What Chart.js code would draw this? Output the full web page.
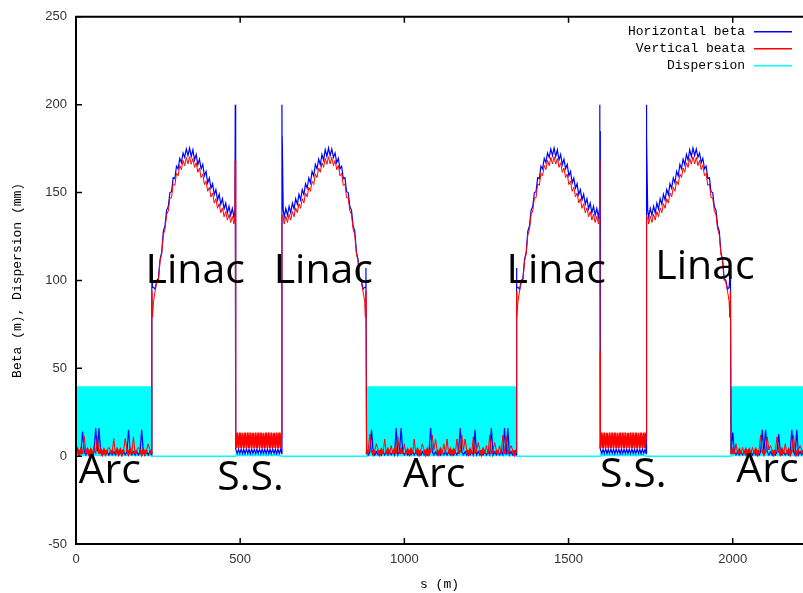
<!DOCTYPE html>
<html><head><meta charset="utf-8">
<script src="https://cdn.jsdelivr.net/npm/chart.js@4"></script>
<style>html,body{margin:0;padding:0;background:#fff}canvas{display:block}</style>
</head><body>
<canvas id="c" width="803" height="593" style="width:803px;height:593px"></canvas>
<script>
// ---------- DATA (s in m, beta in m, dispersion in mm) ----------
const seriesNames = ['Horizontal beta', 'Vertical beata', 'Dispersion'];
const xTicks = [0, 500, 1000, 1500, 2000];
const yTicks = [-50, 0, 50, 100, 150, 200, 250];

// Arc 1
const sArc1 = [0,5,10,15,20,25,30,35,40,45,50,55,60,65,70,75,80,85,90,95,100,105,110,115,120,125,130,135,140,145,150,155,160,165,170,175,180,185,190,195,200,205,210,215,220,225,230];
const bxArc1 = [0.6,2.6,0.7,2.5,14,2.6,0.6,2.5,0.7,2.6,0.6,2.5,16,2.6,16,2.5,0.6,2.6,0.7,2.5,0.6,2.6,0.7,2.5,0.6,2.6,0.7,2.5,0.6,2.6,0.7,2.5,15,2.6,0.7,2.5,0.6,2.6,0.7,2.5,15,2.6,0.7,2.5,0.6,2.6,0.7];
const byArc1 = [1.2,3.5,1.3,3.4,1.2,11.5,1.3,3.5,1.2,3.4,1.3,5.8,1.2,11,1.3,3.5,1.2,3.4,1.3,3.5,5,3.4,1.3,10,1.2,3.5,1.3,3.4,1.2,3.5,10,3.4,1.3,3.5,1.2,11,1.3,3.4,5,3.5,1.2,3.4,1.3,3.5,7,3.4,1.3];

// Linac 1
const sLin1 = [231,233,236,241,246,251,256,261,266,271,276,281,286,291,296,301,306,311,316,321,326,331,336,341,346,351,356,361,366,371,376,381,386,391,396,401,406,411,416,421,426,431,436,441,446,451,456,461,466,471,476,481,484];
const bxLin1 = [107,96,96,95,100,101,112,116,128,131,140,142,150,150.5,158.5,158,165,163.5,169.5,167,172.5,170,174.8,171,175.3,170.5,174.3,168.5,171.7,165.8,169,163.5,166,159.5,162,155.5,158.3,152.5,155,148.8,151.7,145.8,149,143.3,146.5,140.7,144,138.5,142.2,137,141,136,140.3];
const byLin1 = [94,79,88,94,99,100,111,115,126,129,137.5,139.5,147,147,155,154,161,159.5,165.5,163,168.3,165.3,170,166.3,170.4,166.1,169.4,164.3,167,161.5,164,158.5,160.5,154.5,156.5,150.7,153,147.5,149.7,144,146.5,141,143.7,138.5,141.3,136.2,139.2,134.3,137.6,133,136.5,132.1,136];

// Straight section 1
const sSS1 = [485,485.5,486,486.5,487,491,495,499,503,507,511,515,519,523,527,531,535,539,543,547,551,555,559,563,567,571,575,579,583,587,591,595,599,603,607,611,615,619,623,626];
const bxSS1 = [200,170,185,40,4.0,1.5,3.9,1.4,4.0,1.5,3.9,1.4,4.0,1.5,3.9,1.4,4.0,1.5,3.9,1.4,4.0,1.5,3.9,1.4,4.0,1.5,3.9,1.4,4.0,1.5,3.9,1.4,4.0,1.5,3.9,1.4,4.0,1.5,3.9,1.4];
const bySS1 = [168,150,60,13.4,4.5,13.4,4.6,13.4,4.5,13.3,4.6,13.4,4.5,13.4,4.6,13.4,4.5,13.3,4.6,13.4,4.5,13.4,4.6,13.4,4.5,13.3,4.6,13.4,4.5,13.4,4.6,13.4,4.5,13.3,4.6,13.4,4.5,13.4,4.6,13.4];

// Linac 2
const sLin2 = [627.2,627.6,628,631,634,639,644,649,654,659,664,669,674,679,684,689,694,699,704,709,714,719,724,729,734,739,744,749,754,759,764,769,774,779,784,789,794,799,804,809,814,819,824,829,834,839,844,849,854,859,864,869,874,879,881,883];
const bxLin2 = [200,168,182,140.3,136,141,137,142.2,138.5,144,140.7,146.5,143.3,149,145.8,151.7,148.8,155,152.5,158.3,155.5,162,159.5,166,163.5,169,165.8,171.7,168.5,174.3,170.5,175.3,171,174.8,170,172.5,167,169.5,163.5,165,158,158.5,150.5,150,142,140,131,128,116,112,101,100,95,96,96,107];
const byLin2 = [137,137,136.5,136,132.1,136.5,133,137.6,134.3,139.2,136.2,141.3,138.5,143.7,141,146.5,144,149.7,147.5,153,150.7,156.5,154.5,160.5,158.5,164,161.5,167,164.3,169.4,166.1,170.4,166.3,170,165.3,168.3,163,165.5,159.5,161,154,155,147,147,139.5,137.5,129,126,115,111,100,99,94,88,79,94];

// Arc 2
const sArc2 = [885,890,895,900,905,910,915,920,925,930,935,940,945,950,955,960,965,970,975,980,985,990,995,1000,1005,1010,1015,1020,1025,1030,1035,1040,1045,1050,1055,1060,1065,1070,1075,1080,1085,1090,1095,1100,1105,1110,1115,1120,1125,1130,1135,1140,1145,1150,1155,1160,1165,1170,1175,1180,1185,1190,1195,1200,1205,1210,1215,1220,1225,1230,1235,1240,1245,1250,1255,1260,1265,1270,1275,1280,1285,1290,1295,1300,1305,1310,1315,1320,1325,1330,1335,1340];
const bxArc2 = [2.6,0.6,2.5,15,2.6,0.6,2.5,0.7,2.6,0.6,2.5,0.7,2.6,0.6,2.5,0.7,2.6,0.6,16,0.7,2.6,16,2.5,0.7,2.6,0.6,2.5,0.7,2.6,0.6,2.5,0.7,2.6,0.6,2.5,0.7,2.6,0.6,2.5,16,2.6,0.6,2.5,0.7,2.6,0.6,2.5,0.7,2.6,0.6,2.5,0.7,2.6,0.6,2.5,0.7,2.6,16,2.5,0.7,2.6,0.6,2.5,0.7,2.6,0.6,15,0.7,2.6,0.6,2.5,0.7,2.6,0.6,2.5,0.7,16,0.6,2.5,0.7,2.6,0.6,2.5,0.7,16,0.6,16,0.7,2.6,0.6,2.5,0.7];
const byArc2 = [1.2,3.5,12.5,3.4,1.3,3.5,7,3.5,1.2,3.4,1.3,9.7,1.2,3.5,1.3,6,1.2,3.5,1.3,11,1.2,3.5,1.3,7,1.2,3.4,1.3,3.5,1.2,9.7,1.3,3.5,1.2,3.4,7,3.5,1.2,3.5,1.3,3.4,12,3.5,9.7,3.4,1.3,3.5,1.2,7,1.3,9.7,1.2,3.5,1.3,3.4,1.2,9.7,1.3,3.5,12,3.4,9.7,3.5,1.3,3.4,1.2,11,1.3,3.5,7.7,3.4,1.2,3.5,1.3,6,1.2,12,1.3,3.5,7.7,3.4,1.2,6,1.3,12,1.2,11,1.3,3.5,6,3.4,1.2,3.5];

// Linac 3
const sLin3 = [1341,1343,1346,1351,1356,1361,1366,1371,1376,1381,1386,1391,1396,1401,1406,1411,1416,1421,1426,1431,1436,1441,1446,1451,1456,1461,1466,1471,1476,1481,1486,1491,1496,1501,1506,1511,1516,1521,1526,1531,1536,1541,1546,1551,1556,1561,1566,1571,1576,1581,1586,1591,1594];
const bxLin3 = [107,96,96,95,100,101,112,116,128,131,140,142,150,150.5,158.5,158,165,163.5,169.5,167,172.5,170,174.8,171,175.3,170.5,174.3,168.5,171.7,165.8,169,163.5,166,159.5,162,155.5,158.3,152.5,155,148.8,151.7,145.8,149,143.3,146.5,140.7,144,138.5,142.2,137,141,136,140.3];
const byLin3 = [94,79,88,94,99,100,111,115,126,129,137.5,139.5,147,147,155,154,161,159.5,165.5,163,168.3,165.3,170,166.3,170.4,166.1,169.4,164.3,167,161.5,164,158.5,160.5,154.5,156.5,150.7,153,147.5,149.7,144,146.5,141,143.7,138.5,141.3,136.2,139.2,134.3,137.6,133,136.5,132.1,136];

// Straight section 2
const sSS2 = [1595,1595.5,1596,1596.5,1597,1601,1605,1609,1613,1617,1621,1625,1629,1633,1637,1641,1645,1649,1653,1657,1661,1665,1669,1673,1677,1681,1685,1689,1693,1697,1701,1705,1709,1713,1717,1721,1725,1729,1733,1736];
const bxSS2 = [200,170,185,40,4.0,1.5,3.9,1.4,4.0,1.5,3.9,1.4,4.0,1.5,3.9,1.4,4.0,1.5,3.9,1.4,4.0,1.5,3.9,1.4,4.0,1.5,3.9,1.4,4.0,1.5,3.9,1.4,4.0,1.5,3.9,1.4,4.0,1.5,3.9,1.4];
const bySS2 = [168,150,60,13.4,4.5,13.4,4.6,13.4,4.5,13.3,4.6,13.4,4.5,13.4,4.6,13.4,4.5,13.3,4.6,13.4,4.5,13.4,4.6,13.4,4.5,13.3,4.6,13.4,4.5,13.4,4.6,13.4,4.5,13.3,4.6,13.4,4.5,13.4,4.6,13.4];

// Linac 4
const sLin4 = [1737.2,1737.6,1738,1741,1744,1749,1754,1759,1764,1769,1774,1779,1784,1789,1794,1799,1804,1809,1814,1819,1824,1829,1834,1839,1844,1849,1854,1859,1864,1869,1874,1879,1884,1889,1894,1899,1904,1909,1914,1919,1924,1929,1934,1939,1944,1949,1954,1959,1964,1969,1974,1979,1984,1989,1991,1993];
const bxLin4 = [200,168,182,140.3,136,141,137,142.2,138.5,144,140.7,146.5,143.3,149,145.8,151.7,148.8,155,152.5,158.3,155.5,162,159.5,166,163.5,169,165.8,171.7,168.5,174.3,170.5,175.3,171,174.8,170,172.5,167,169.5,163.5,165,158,158.5,150.5,150,142,140,131,128,116,112,101,100,95,96,96,107];
const byLin4 = [137,137,136.5,136,132.1,136.5,133,137.6,134.3,139.2,136.2,141.3,138.5,143.7,141,146.5,144,149.7,147.5,153,150.7,156.5,154.5,160.5,158.5,164,161.5,167,164.3,169.4,166.1,170.4,166.3,170,165.3,168.3,163,165.5,159.5,161,154,155,147,147,139.5,137.5,129,126,115,111,100,99,94,88,79,94];

// Arc 3
const sArc3 = [1995,2000,2005,2010,2015,2020,2025,2030,2035,2040,2045,2050,2055,2060,2065,2070,2075,2080,2085,2090,2095,2100,2105,2110,2115,2120,2125,2130,2135,2140,2145,2150,2155,2160,2165,2170,2175,2180,2185,2190,2195,2200,2205,2210,2215,2220,2225,2230];
const bxArc3 = [2.6,13.4,2.5,0.7,2.6,0.6,2.5,0.7,2.6,0.6,2.5,0.7,2.6,0.6,2.5,0.7,2.6,0.6,2.5,15,2.6,15,2.5,0.7,2.6,0.6,2.5,0.7,2.6,12.6,2.5,0.7,2.6,0.6,2.5,0.7,2.6,15,2.5,0.6,15,0.7,2.6,0.6,2.5,0.7,2.6,0.6];
const byArc3 = [1.2,3.5,1.3,7,1.2,3.4,1.3,5,1.2,3.5,1.3,3.4,1.2,5,1.3,3.5,1.2,3.4,12,3.5,1.3,3.4,11,3.5,6,3.4,1.2,3.5,11,3.4,1.3,3.5,1.2,7,1.3,3.4,1.2,3.5,12,3.4,1.3,3.5,6,3.4,1.2,3.5,1.3,3.4];

// Dispersion
const sDisp = [0,230,230.6,486.5,490,500,510,520,530,540,550,560,570,580,590,600,610,620,626,884,884.5,1340,1340.6,1596.5,1600,1610,1620,1630,1640,1650,1660,1670,1680,1690,1700,1710,1720,1730,1736,1993.5,1994,2230];
const dispVals = [39.4,39.4,0,0,2.0,0.4,2.1,0.4,2.0,0.4,2.1,0.4,2.0,0.4,2.1,0.4,2.0,0.4,0,0,39.4,39.4,0,0,2.0,0.4,2.1,0.4,2.0,0.4,2.1,0.4,2.0,0.4,2.1,0.4,2.0,0.4,0,0,39.4,39.4];

// Region labels (text overlays)
const regionNames = ['Arc','Linac','S.S.','Linac','Arc','Linac','S.S.','Linac','Arc'];

// ---------- BUILD ----------
function pts(s, v){ return s.map((x,i)=>({x:x, y:v[i]})); }
const bxPts = [].concat(pts(sArc1,bxArc1),pts(sLin1,bxLin1),pts(sSS1,bxSS1),pts(sLin2,bxLin2),pts(sArc2,bxArc2),pts(sLin3,bxLin3),pts(sSS2,bxSS2),pts(sLin4,bxLin4),pts(sArc3,bxArc3));
const byPts = [].concat(pts(sArc1,byArc1),pts(sLin1,byLin1),pts(sSS1,bySS1),pts(sLin2,byLin2),pts(sArc2,byArc2),pts(sLin3,byLin3),pts(sSS2,bySS2),pts(sLin4,byLin4),pts(sArc3,byArc3));
const dPts = pts(sDisp, dispVals);

const colors = ['#0000ff', '#ff0000', '#00ffff'];
const ssRanges = [[sSS1[4], sSS1[sSS1.length-1]], [sSS2[4], sSS2[sSS2.length-1]]];
const inSS = v => ssRanges.some(r => v >= r[0] && v <= r[1]);

// label anchors in data coordinates (left edge s, baseline value)
const labelAnchors = [[8,-15.5],[212,98.5],[430,-19],[602,98.5],[996,-17.4],[1311,98.5],[1596,-17.4],[1764,100.7],[2011,-14.6]];

const decor = {
  id:'decor',
  afterDatasetsDraw(chart){
    const {ctx, chartArea:a, scales:{x,y}} = chart;
    ctx.save();
    ctx.strokeStyle='#000'; ctx.lineWidth=2;
    ctx.beginPath();
    ctx.moveTo(a.left, a.top); ctx.lineTo(a.right+2, a.top);
    ctx.moveTo(a.left, a.top-1); ctx.lineTo(a.left, a.bottom+1);
    ctx.moveTo(a.left, a.bottom); ctx.lineTo(a.right+2, a.bottom);
    ctx.stroke();
    ctx.lineWidth=1.5;
    ctx.beginPath();
    y.ticks.forEach(t=>{const py=y.getPixelForValue(t.value); ctx.moveTo(a.left,py); ctx.lineTo(a.left+6,py);});
    x.ticks.forEach(t=>{const px=x.getPixelForValue(t.value); ctx.moveTo(px,a.bottom); ctx.lineTo(px,a.bottom-6); ctx.moveTo(px,a.top); ctx.lineTo(px,a.top+6);});
    ctx.stroke();
    ctx.restore();
  },
  afterDraw(chart){
    const {ctx, chartArea:a, scales:{x,y}} = chart;
    ctx.save();
    ctx.fillStyle='#000';
    ctx.font='41px "Open Sans", "Liberation Sans", sans-serif';
    ctx.textAlign='left'; ctx.textBaseline='alphabetic';
    regionNames.forEach((t,i)=>{
      ctx.fillText(t, x.getPixelForValue(labelAnchors[i][0]), y.getPixelForValue(labelAnchors[i][1]));
    });
    ctx.font='13px "Liberation Mono", monospace';
    ctx.textAlign='right'; ctx.textBaseline='middle';
    seriesNames.forEach((n,i)=>{
      const yy = a.top + 15 + i*17;
      ctx.fillStyle='#000';
      ctx.fillText(n, a.right-58, yy);
      ctx.strokeStyle=colors[i]; ctx.lineWidth=1.5;
      ctx.beginPath(); ctx.moveTo(a.right-49, yy); ctx.lineTo(a.right-11, yy); ctx.stroke();
    });
    ctx.restore();
  }
};

new Chart(document.getElementById('c'), {
  type:'line',
  data:{ datasets:[
    {label:seriesNames[1], data:byPts, borderColor:colors[1], borderWidth:1, pointRadius:0, fill:false, order:1,
     segment:{borderWidth:(c)=>{
       const p=c.p0.parsed, q=c.p1.parsed;
       if (p.y<=3.6 && q.y<=3.6) return 2.6;
       if (inSS(p.x) && inSS(q.x) && Math.min(p.y,q.y)>=4.4 && Math.max(p.y,q.y)<=13.5) return 1.9;
       return undefined;
     }}},
    {label:seriesNames[0], data:bxPts, borderColor:colors[0], borderWidth:1.2, pointRadius:0, fill:false, order:2},
    {label:seriesNames[2], data:dPts, borderColor:colors[2], backgroundColor:colors[2], borderWidth:1.5, pointRadius:0, fill:'origin', order:3}
  ]},
  options:{
    responsive:false, animation:false, devicePixelRatio:1,
    elements:{line:{tension:0}},
    layout:{padding:{top:14,right:0,bottom:0,left:0}},
    plugins:{legend:{display:false}, tooltip:{enabled:false}},
    scales:{
      x:{type:'linear', min:0, max:2214,
        afterBuildTicks:(s)=>{ s.ticks = xTicks.map(v=>({value:v})); },
        ticks:{stepSize:500, font:{family:'Liberation Sans', size:13}, color:'#333', padding:8, maxRotation:0, callback:(v)=>String(v)},
        grid:{display:false, drawTicks:false}, border:{display:false},
        title:{display:true, text:'s (m)', font:{family:'Liberation Mono', size:13}, color:'#000', padding:{top:0,bottom:1}},
        afterFit:(s)=>{ s.height=49; }
      },
      y:{type:'linear', min:-50, max:250,
        afterBuildTicks:(s)=>{ s.ticks = yTicks.map(v=>({value:v})); },
        ticks:{stepSize:50, font:{family:'Liberation Sans', size:13}, color:'#333', padding:9, callback:(v)=>String(v)},
        grid:{display:false, drawTicks:false}, border:{display:false},
        title:{display:true, text:'Beta (m), Dispersion (mm)', font:{family:'Liberation Mono', size:13}, color:'#000', padding:{top:10,bottom:0}},
        afterFit:(s)=>{ s.width=76; }
      }
    }
  },
  plugins:[decor]
});
</script></body></html>
